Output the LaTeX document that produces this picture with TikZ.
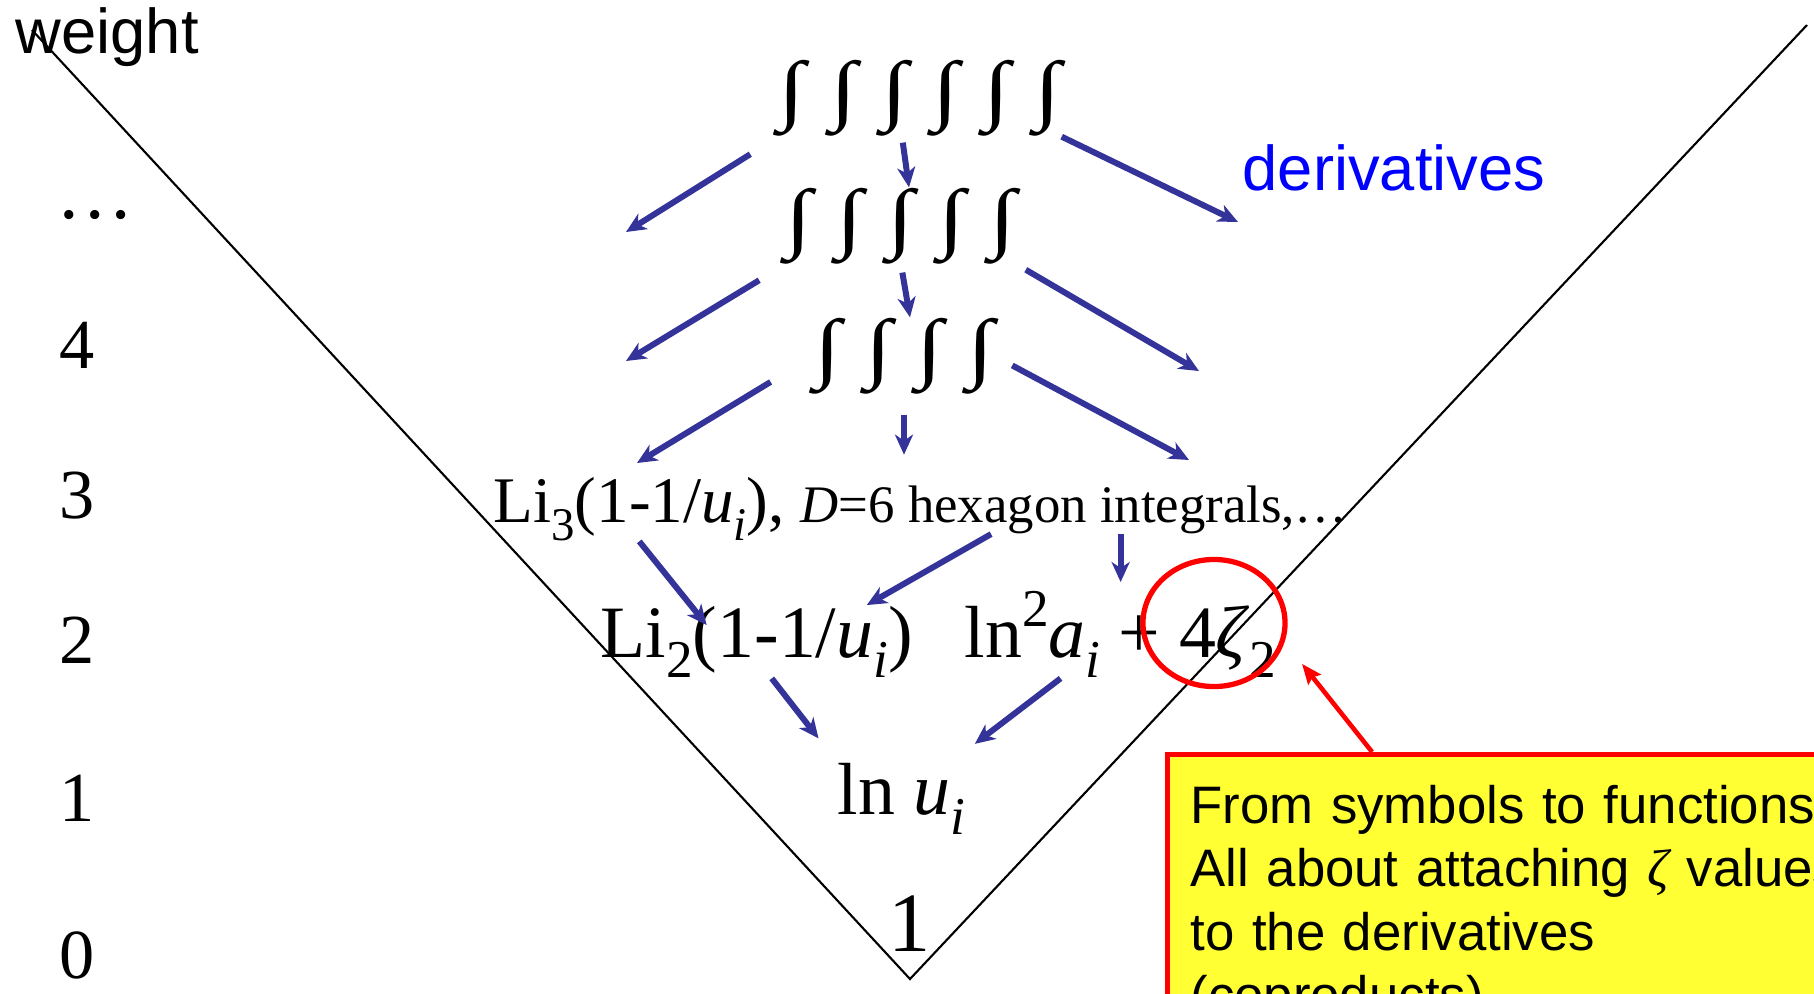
\documentclass[tikz,border=0pt]{standalone}
\usepackage{graphicx}
\usepackage{fontspec}
\setmainfont{Liberation Serif}
\newfontfamily\arial{Liberation Sans}
\usetikzlibrary{arrows.meta,shapes.geometric}

\definecolor{arrowblue}{RGB}{51,51,153}
\definecolor{noteyellow}{RGB}{255,255,51}
\definecolor{notered}{RGB}{255,0,0}

\newcommand{\ptsize}[1]{\fontsize{#1}{#1}\selectfont}
\newcommand{\intg}{\scalebox{1.25}[1]{∫}}
\newcommand{\intgap}{\hspace{7pt}}
\newcommand{\lo}[1]{\raisebox{-0.28em}{\scalebox{0.72}{#1}}}
\newcommand{\hi}[1]{\raisebox{0.42em}{\scalebox{0.72}{#1}}}

\tikzset{
  wnum/.style={inner sep=0, anchor=base, font=\ptsize{20}},
  ints/.style={inner sep=0, font=\ptsize{22}},
  fnbig/.style={inner sep=0, anchor=base west, font=\ptsize{21}},
  sans/.style={inner sep=0, anchor=base west, font={\arial\ptsize{18}}},
  darrow/.style={draw=arrowblue, line width=1.7pt, -{Stealth[length=2mm,width=1.8mm,inset=0.6mm]}},
  redarrow/.style={draw=notered, line width=1.3pt, -{Stealth[length=2mm,width=1.6mm,inset=0.3mm]}},
  ring/.style={ellipse, draw=notered, line width=1.5pt, minimum width=1.42cm, minimum height=1.27cm, inner sep=0},
  note/.style={draw=notered, line width=1.5pt, fill=noteyellow, anchor=north west, align=left,
    text width=9cm, minimum height=3cm, inner sep=6.5pt, font={\arial\fontsize{15}{18}\selectfont}}
}

\begin{document}
\begin{tikzpicture}[x=0.01cm, y=-0.01cm]
  \useasboundingbox (0,0) rectangle (1814,993);
  \clip (0,0) rectangle (1814,993);

  % --- weight axis ---
  \node[sans] (wlab) at (15,53) {weight};
  \node[wnum, font=\ptsize{22}] (wdots) at (95,218) {…};
  \node[wnum] (w4) at (77,368) {4};
  \node[wnum] (w3) at (77,518) {3};
  \node[wnum] (w2) at (77,663) {2};
  \node[wnum] (w1) at (77,821) {1};
  \node[wnum] (w0) at (77,978) {0};

  % --- the cone ---
  \draw[line width=0.6pt] (32,30) -- (910,979) -- (1807,25);

  % --- integrals ---
  \node[ints] (int6) at (920,98) {\intg\intgap\intg\intgap\intg\intgap\intg\intgap\intg\intgap\intg};
  \node[ints] (int5) at (901,226) {\intg\intgap\intg\intgap\intg\intgap\intg\intgap\intg};
  \node[ints] (int4) at (904,356) {\intg\intgap\intg\intgap\intg\intgap\intg};

  % --- functions ---
  \node[fnbig, font=\ptsize{18.5}] (li3) at (493,522) {Li\lo{3}(1-1/\textit{u}\lo{\textit{i}}),};
  \node[fnbig, font=\ptsize{15}] (hex) at (800,522) {\textit{D}=6 hexagon integrals,…};
  \node[fnbig] (li2) at (600,657) {Li\lo{2}(1-1/\textit{u}\lo{\textit{i}})};
  \node[fnbig] (lnsq) at (964,657) {ln\hi{2}\textit{a}\lo{\textit{i}} + 4\textit{ζ}\lo{2}};
  \node[fnbig] (lnu) at (837,814) {ln \textit{u}\lo{\textit{i}}};
  \node[inner sep=0, anchor=base, font=\ptsize{24}] (one) at (910,951) {1};

  \node[sans, text=blue] (deriv) at (1242,190) {derivatives};

  % --- remark ---
  \node[ring] (ring) at (1214,623) {};
  \node[note] (note) at (1165,752) {From symbols to functions:\\
    All about attaching {\rmfamily\itshape ζ} values\\
    to the derivatives\\
    (coproducts)};

  % --- free arrow ends ---
  \coordinate (f1) at (626,232);
  \coordinate (f3) at (1238,222);
  \coordinate (f4) at (626,361);
  \coordinate (f6) at (1199,371);
  \coordinate (f7) at (637,463);
  \coordinate (f9) at (1189,460);

  % --- derivatives (arrows) ---
  \draw[darrow, shorten <=0.33cm] (int6.south west) -- (f1);
  \draw[darrow, shorten <=0.06cm] ([xshift=-0.18cm]int6.south) -- ([xshift=0.08cm]int5.north);
  \draw[darrow] (int6.south east) -- (f3);

  \draw[darrow, shorten <=0.3cm] (int5.south west) -- (f4);
  \draw[darrow, shorten <=0.08cm] (int5.south) -- ([xshift=0.06cm]int4.north);
  \draw[darrow, shorten <=0.1cm] (int5.south east) -- (f6);

  \draw[darrow, shorten <=0.5cm] (int4.west) -- (f7);
  \draw[darrow, shorten <=0.2cm, shorten >=0.3cm] (int4.south) -- (int4.south |- hex.north);
  \draw[darrow, shorten <=0.2cm] (int4.east) -- (f9);

  \draw[darrow] (li3.south) -- ([xshift=-0.5cm, yshift=-0.2cm]li2.north);
  \draw[darrow] ([xshift=-0.83cm]hex.south) -- ([xshift=1.1cm]li2.north);
  \draw[darrow, shorten >=0.08cm] (lnsq.north |- hex.south) -- (lnsq.north);

  \draw[darrow, shorten >=0.3cm] ([xshift=0.15cm]li2.south) -- (lnu.north west);
  \draw[darrow, shorten >=0.3cm] ([xshift=-0.6cm]lnsq.south) -- ([xshift=-0.15cm]lnu.north east);

  \draw[redarrow, shorten >=0.28cm] ([xshift=2.07cm]note.north west) -- (ring.-15);
\end{tikzpicture}
\end{document}
